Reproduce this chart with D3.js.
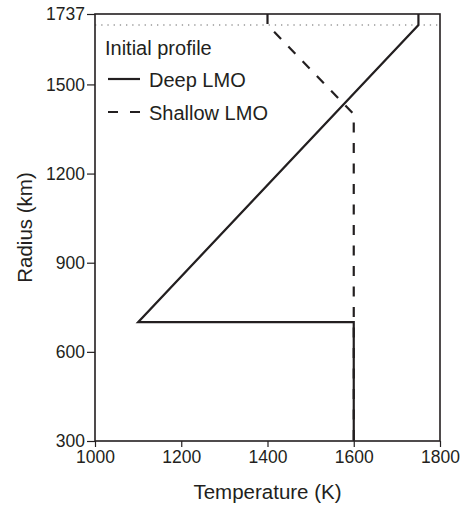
<!DOCTYPE html>
<html><head><meta charset="utf-8">
<script src="https://cdn.jsdelivr.net/npm/d3@7"></script>
<style>body{margin:0;background:#fff}svg{display:block}text{font-family:"Liberation Sans",Arial,sans-serif;fill:#231f20}</style>
</head><body><svg id="c" width="461" height="507"></svg>
<script>
const xTicks=[1000,1200,1400,1600,1800];
const yTicks=[300,600,900,1200,1500,1737];
const deepT=[1750,1750,1100,1600,1600];
const deepR=[1737,1700,700,700,300];
const shallowT=[1400,1400,1600,1600];
const shallowR=[1737,1700,1400,300];
const crustR=1700;
const legendTitle="Initial profile";
const seriesNames=["Deep LMO","Shallow LMO"];

const svg=d3.select("#c");
const L=95,R=440,T=14,B=441;
const x=d3.scaleLinear().domain([1000,1800]).range([L,R]);
const y=d3.scaleLinear().domain([300,1737]).range([B,T]);
const ink="#231f20";

// dotted reference line
svg.append("line").attr("x1",L).attr("x2",R).attr("y1",y(crustR)).attr("y2",y(crustR))
 .attr("stroke","#999").attr("stroke-width",1.3).attr("stroke-dasharray","1.3,4.9");

const line=d3.line().x(d=>x(d[0])).y(d=>y(d[1]));
const deep=deepT.map((t,i)=>[t,deepR[i]]);
const shallow=shallowT.map((t,i)=>[t,shallowR[i]]);
svg.append("path").attr("d",line(shallow)).attr("fill","none").attr("stroke",ink)
 .attr("stroke-width",2.2).attr("stroke-dasharray","10,10.5");
svg.append("path").attr("d",line(deep)).attr("fill","none").attr("stroke",ink)
 .attr("stroke-width",2.2).attr("stroke-linejoin","miter");

// frame
svg.append("rect").attr("x",L).attr("y",T).attr("width",R-L).attr("height",B-T)
 .attr("fill","none").attr("stroke",ink).attr("stroke-width",1.6);

const xa=svg.append("g").attr("transform",`translate(0,${B})`)
 .call(d3.axisBottom(x).tickValues(xTicks).tickSize(6).tickPadding(4).tickFormat(d3.format("d")));
const ya=svg.append("g").attr("transform",`translate(${L},0)`)
 .call(d3.axisLeft(y).tickValues(yTicks).tickSize(8).tickPadding(2).tickFormat(d3.format("d")));
[xa,ya].forEach(g=>{g.select(".domain").remove();
 g.selectAll("line").attr("stroke",ink).attr("stroke-width",1.2);
 g.selectAll("text").attr("font-size","17.5px").style("font-family","'Liberation Sans',Arial,sans-serif").attr("fill",ink);});

svg.append("text").attr("x",(L+R)/2).attr("y",499).attr("text-anchor","middle")
 .attr("font-size","20.5px").text("Temperature (K)");
svg.append("text").attr("transform",`translate(32,${(T+B)/2}) rotate(-90)`).attr("text-anchor","middle")
 .attr("font-size","20.5px").text("Radius (km)");

// legend
svg.append("text").attr("x",105).attr("y",55).attr("font-size","20px").text(legendTitle);
const ly=[79,112];
seriesNames.forEach((n,i)=>{
 svg.append("line").attr("x1",108).attr("x2",140).attr("y1",ly[i]).attr("y2",ly[i])
  .attr("stroke",ink).attr("stroke-width",2.2).attr("stroke-dasharray",i?"10,12":null);
 svg.append("text").attr("x",149).attr("y",ly[i]+7.5).attr("font-size","20px").text(n);
});
</script></body></html>
